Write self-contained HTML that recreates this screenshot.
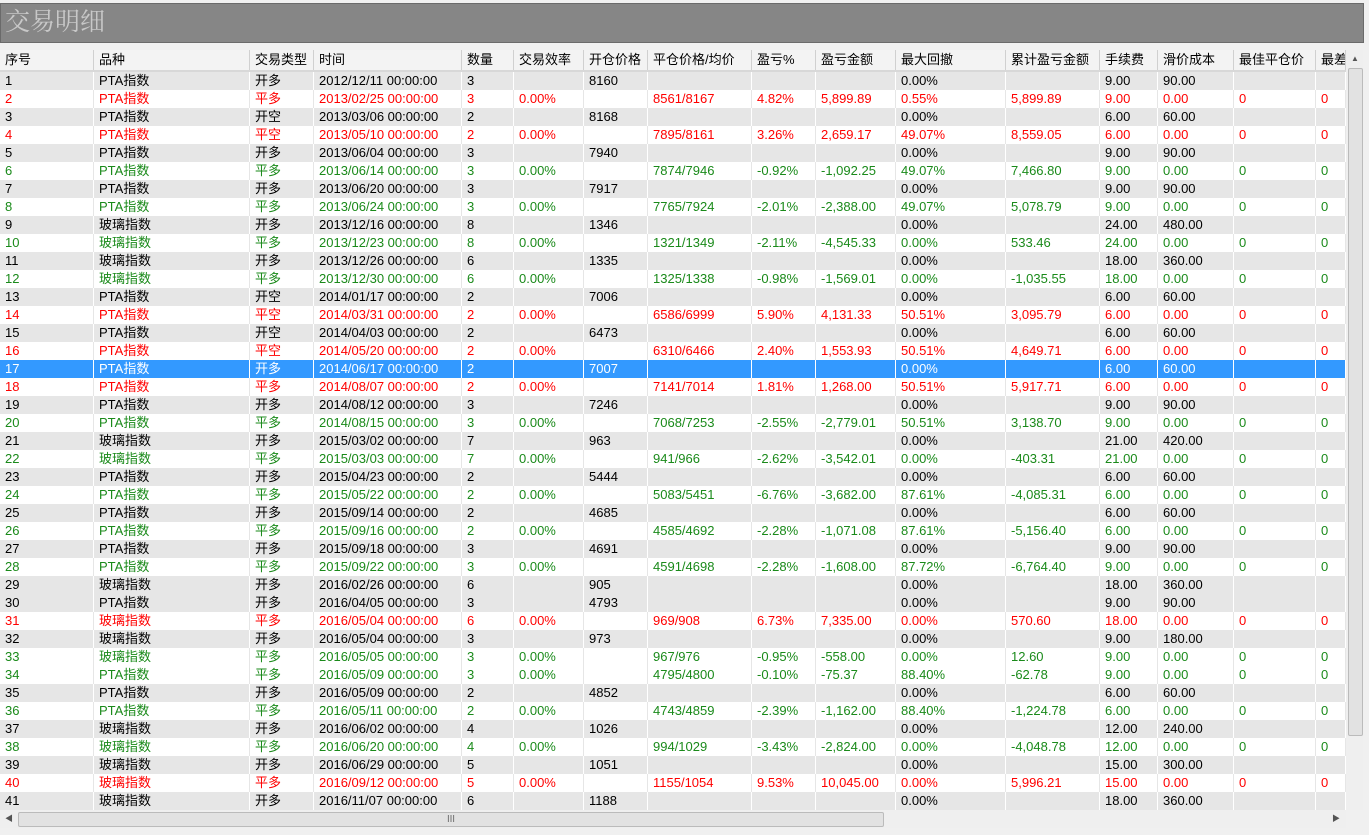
<!DOCTYPE html>
<html><head><meta charset="utf-8"><style>
body{margin:0;width:1369px;height:835px;background:#f0f0f0;font-family:"Liberation Sans","Noto Sans CJK SC",sans-serif;font-size:13px;overflow:hidden;position:relative}
#title{position:absolute;left:0;top:3px;width:1364px;height:40px;background:#868686;border:1px solid #6a6a6a;color:#c8c8c8;font-family:"Liberation Serif","Noto Serif CJK SC",serif;font-size:25px;line-height:38px;padding-left:4px;box-sizing:border-box}
#grid{position:absolute;left:0;top:50px;width:1346px;height:760px;overflow:hidden;background:#fff}
.row{position:absolute;left:0;height:18px;width:1346px;line-height:18px;white-space:nowrap}
.cell{position:absolute;top:0;height:18px;padding-left:5px;box-sizing:border-box;border-right:1px solid #fff;overflow:hidden}
.hdr{background:#f3f3f3;height:20px;line-height:20px;border-bottom:2px solid #d8d8d8;top:0}
.hdr .cell{height:20px;border-right:1px solid #d0d0d0}
.open{background:#e6e6e6;color:#000}
.close{background:#fff}
.open .cell{border-right:1px solid #fff}
.close .cell{border-right:1px solid #e6e6e6}
.sel{background:#3399ff;color:#fff}
.red{color:#ff0000}.green{color:#1a8a1a}
#vs{position:absolute;left:1346px;top:50px;width:17px;height:760px;background:#efefef}
#hs{position:absolute;left:0;top:810px;width:1346px;height:18px;background:#efefef}
</style></head><body>
<div id="title">交易明细</div>
<div id="grid"></div>
<div id="vs">
<div style="position:absolute;top:4px;left:5px;font-size:8px;color:#555">▲</div>
<div style="position:absolute;top:18px;left:2px;width:13px;height:666px;background:#e2e2e2;border:1px solid #bbb;border-radius:2px"></div>
</div>
<div id="hs">
<div style="position:absolute;left:5px;top:3px;font-size:8px;color:#555">◀</div>
<div style="position:absolute;left:18px;top:2px;width:864px;height:13px;background:#e2e2e2;border:1px solid #bbb;border-radius:2px;text-align:center;font-size:9px;line-height:13px;color:#666">Ⅲ</div>
<div style="position:absolute;left:1332px;top:3px;font-size:8px;color:#555">▶</div>
</div>
<script>
const colX=[0,94,250,314,462,514,584,648,752,816,896,1006,1100,1158,1234,1316,1346];
const headers=["序号","品种","交易类型","时间","数量","交易效率","开仓价格","平仓价格/均价","盈亏%","盈亏金额","最大回撤","累计盈亏金额","手续费","滑价成本","最佳平仓价","最差"];
const rows=[
"1|PTA指数|开多|2012/12/11|3||8160||||0.00%||9.00|90.00||",
"2|PTA指数|平多|2013/02/25|3|0.00%||8561/8167|4.82%|5,899.89|0.55%|5,899.89|9.00|0.00|0|0",
"3|PTA指数|开空|2013/03/06|2||8168||||0.00%||6.00|60.00||",
"4|PTA指数|平空|2013/05/10|2|0.00%||7895/8161|3.26%|2,659.17|49.07%|8,559.05|6.00|0.00|0|0",
"5|PTA指数|开多|2013/06/04|3||7940||||0.00%||9.00|90.00||",
"6|PTA指数|平多|2013/06/14|3|0.00%||7874/7946|-0.92%|-1,092.25|49.07%|7,466.80|9.00|0.00|0|0",
"7|PTA指数|开多|2013/06/20|3||7917||||0.00%||9.00|90.00||",
"8|PTA指数|平多|2013/06/24|3|0.00%||7765/7924|-2.01%|-2,388.00|49.07%|5,078.79|9.00|0.00|0|0",
"9|玻璃指数|开多|2013/12/16|8||1346||||0.00%||24.00|480.00||",
"10|玻璃指数|平多|2013/12/23|8|0.00%||1321/1349|-2.11%|-4,545.33|0.00%|533.46|24.00|0.00|0|0",
"11|玻璃指数|开多|2013/12/26|6||1335||||0.00%||18.00|360.00||",
"12|玻璃指数|平多|2013/12/30|6|0.00%||1325/1338|-0.98%|-1,569.01|0.00%|-1,035.55|18.00|0.00|0|0",
"13|PTA指数|开空|2014/01/17|2||7006||||0.00%||6.00|60.00||",
"14|PTA指数|平空|2014/03/31|2|0.00%||6586/6999|5.90%|4,131.33|50.51%|3,095.79|6.00|0.00|0|0",
"15|PTA指数|开空|2014/04/03|2||6473||||0.00%||6.00|60.00||",
"16|PTA指数|平空|2014/05/20|2|0.00%||6310/6466|2.40%|1,553.93|50.51%|4,649.71|6.00|0.00|0|0",
"17|PTA指数|开多|2014/06/17|2||7007||||0.00%||6.00|60.00||",
"18|PTA指数|平多|2014/08/07|2|0.00%||7141/7014|1.81%|1,268.00|50.51%|5,917.71|6.00|0.00|0|0",
"19|PTA指数|开多|2014/08/12|3||7246||||0.00%||9.00|90.00||",
"20|PTA指数|平多|2014/08/15|3|0.00%||7068/7253|-2.55%|-2,779.01|50.51%|3,138.70|9.00|0.00|0|0",
"21|玻璃指数|开多|2015/03/02|7||963||||0.00%||21.00|420.00||",
"22|玻璃指数|平多|2015/03/03|7|0.00%||941/966|-2.62%|-3,542.01|0.00%|-403.31|21.00|0.00|0|0",
"23|PTA指数|开多|2015/04/23|2||5444||||0.00%||6.00|60.00||",
"24|PTA指数|平多|2015/05/22|2|0.00%||5083/5451|-6.76%|-3,682.00|87.61%|-4,085.31|6.00|0.00|0|0",
"25|PTA指数|开多|2015/09/14|2||4685||||0.00%||6.00|60.00||",
"26|PTA指数|平多|2015/09/16|2|0.00%||4585/4692|-2.28%|-1,071.08|87.61%|-5,156.40|6.00|0.00|0|0",
"27|PTA指数|开多|2015/09/18|3||4691||||0.00%||9.00|90.00||",
"28|PTA指数|平多|2015/09/22|3|0.00%||4591/4698|-2.28%|-1,608.00|87.72%|-6,764.40|9.00|0.00|0|0",
"29|玻璃指数|开多|2016/02/26|6||905||||0.00%||18.00|360.00||",
"30|PTA指数|开多|2016/04/05|3||4793||||0.00%||9.00|90.00||",
"31|玻璃指数|平多|2016/05/04|6|0.00%||969/908|6.73%|7,335.00|0.00%|570.60|18.00|0.00|0|0",
"32|玻璃指数|开多|2016/05/04|3||973||||0.00%||9.00|180.00||",
"33|玻璃指数|平多|2016/05/05|3|0.00%||967/976|-0.95%|-558.00|0.00%|12.60|9.00|0.00|0|0",
"34|PTA指数|平多|2016/05/09|3|0.00%||4795/4800|-0.10%|-75.37|88.40%|-62.78|9.00|0.00|0|0",
"35|PTA指数|开多|2016/05/09|2||4852||||0.00%||6.00|60.00||",
"36|PTA指数|平多|2016/05/11|2|0.00%||4743/4859|-2.39%|-1,162.00|88.40%|-1,224.78|6.00|0.00|0|0",
"37|玻璃指数|开多|2016/06/02|4||1026||||0.00%||12.00|240.00||",
"38|玻璃指数|平多|2016/06/20|4|0.00%||994/1029|-3.43%|-2,824.00|0.00%|-4,048.78|12.00|0.00|0|0",
"39|玻璃指数|开多|2016/06/29|5||1051||||0.00%||15.00|300.00||",
"40|玻璃指数|平多|2016/09/12|5|0.00%||1155/1054|9.53%|10,045.00|0.00%|5,996.21|15.00|0.00|0|0",
"41|玻璃指数|开多|2016/11/07|6||1188||||0.00%||18.00|360.00||"
];
const g=document.getElementById('grid');
function addCells(r,vals){
  vals.forEach((v,i)=>{
    const c=document.createElement('div');
    c.className='cell';
    
    
    c.style.left=colX[i]+'px';c.style.width=(colX[i+1]-colX[i])+'px';
    c.textContent=v;r.appendChild(c);
  });
}
const h=document.createElement('div');
h.className='row hdr';


addCells(h,headers);g.appendChild(h);
rows.forEach((s,k)=>{
  const f=s.split('|');
  f[3]=f[3]+' 00:00:00';
  const r=document.createElement('div');
  const isClose=f[2].startsWith('平');
  let cls='row '+(isClose?'close':'open');
  if(isClose){cls+=f[8].startsWith('-')?' green':' red';}
  if(f[0]==='17')cls='row sel';
  r.className=cls;
  r.style.top=(22+k*18)+'px';
  
  
  addCells(r,f);g.appendChild(r);
});
</script>
</body></html>
